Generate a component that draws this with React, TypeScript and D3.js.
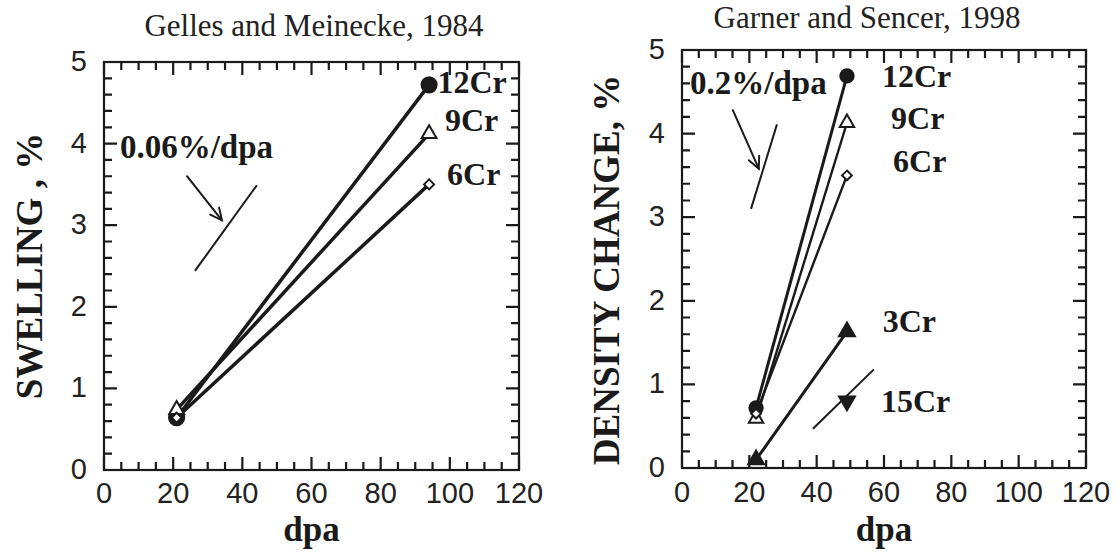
import React from 'react';
import * as d3 from 'd3';

// axis ticks shared by both panels
const xTicks = [0, 20, 40, 60, 80, 100, 120];
const yTicks = [0, 1, 2, 3, 4, 5];

// Gelles and Meinecke, 1984 (swelling, %)
const gellesDpa = [21, 94];
const gelles12Cr = [0.64, 4.72];
const gelles9Cr = [0.74, 4.12];
const gelles6Cr = [0.64, 3.5];

// Garner and Sencer, 1998 (density change, %)
const garnerDpa = [22, 49];
const garner12Cr = [0.72, 4.69];
const garner9Cr = [0.59, 4.13];
const garner6Cr = [0.65, 3.5];
const garner3Cr = [0.1, 1.63];
const garner15CrDpa = [49];
const garner15Cr = [0.8];

const SERIF = '"Liberation Serif", "Times New Roman", serif';
const SANS = '"Liberation Sans", Arial, Helvetica, sans-serif';
const INK = '#1a1a1a';

type Series = {
  name: string;
  dpa: number[];
  values: number[];
  symbol: 'circle' | 'triangle' | 'diamond' | 'triangleDown';
  filled: boolean;
  lineWidth: number;
  size: number;
  label: [number, number];
};

type Seg = [[number, number], [number, number]];

type Slope = {
  text: string;
  textAt: [number, number];
  arrow: Seg;
  line: Seg;
};

const gellesSeries: Series[] = [
  { name: '12Cr', dpa: gellesDpa, values: gelles12Cr, symbol: 'circle', filled: true, lineWidth: 3.5, size: 180, label: [96.4, 4.62] },
  { name: '9Cr', dpa: gellesDpa, values: gelles9Cr, symbol: 'triangle', filled: false, lineWidth: 3.5, size: 95, label: [98.6, 4.15] },
  { name: '6Cr', dpa: gellesDpa, values: gelles6Cr, symbol: 'diamond', filled: false, lineWidth: 3.5, size: 64, label: [99.2, 3.49] },
];

const garnerSeries: Series[] = [
  { name: '12Cr', dpa: garnerDpa, values: garner12Cr, symbol: 'circle', filled: true, lineWidth: 3, size: 140, label: [59.4, 4.56] },
  { name: '9Cr', dpa: garnerDpa, values: garner9Cr, symbol: 'triangle', filled: false, lineWidth: 2.4, size: 90, label: [62.1, 4.05] },
  { name: '6Cr', dpa: garnerDpa, values: garner6Cr, symbol: 'diamond', filled: false, lineWidth: 2.4, size: 60, label: [62.7, 3.54] },
  { name: '3Cr', dpa: garnerDpa, values: garner3Cr, symbol: 'triangle', filled: true, lineWidth: 3, size: 110, label: [59.6, 1.63] },
  { name: '15Cr', dpa: garner15CrDpa, values: garner15Cr, symbol: 'triangleDown', filled: true, lineWidth: 3, size: 110, label: [59.1, 0.67] },
];

const gellesSlope: Slope = {
  text: '0.06%/dpa',
  textAt: [4.6, 3.82],
  arrow: [[24.0, 3.6], [34.1, 3.06]],
  line: [[26.3, 2.44], [44.2, 3.49]],
};

const garnerSlope: Slope = {
  text: '0.2%/dpa',
  textAt: [2.4, 4.47],
  arrow: [[15.1, 4.28], [22.8, 3.58]],
  line: [[20.5, 3.1], [28.2, 4.11]],
};

// the short trend segment through the 15Cr point
const garnerExtraLines: Seg[] = [
  [[38.9, 0.47], [57.0, 1.18]],
];

const symbolPath = (kind: Series['symbol'], size: number) => {
  const type =
    kind === 'circle' ? d3.symbolCircle :
    kind === 'diamond' ? d3.symbolDiamond2 :
    d3.symbolTriangle;
  return d3.symbol().type(type).size(size)() || '';
};

const Arrow = ({ x1, y1, x2, y2 }: { x1: number; y1: number; x2: number; y2: number }) => {
  const ang = Math.atan2(y2 - y1, x2 - x1);
  const len = 13;
  const spread = 0.45;
  const a1 = ang + Math.PI - spread;
  const a2 = ang + Math.PI + spread;
  return (
    <g>
      <line x1={x1} y1={y1} x2={x2} y2={y2} stroke={INK} strokeWidth={2} strokeLinecap="round" />
      <polyline
        points={`${x2 + len * Math.cos(a1)},${y2 + len * Math.sin(a1)} ${x2},${y2} ${x2 + len * Math.cos(a2)},${y2 + len * Math.sin(a2)}`}
        stroke={INK}
        strokeWidth={2}
        fill="none"
        strokeLinecap="round"
      />
    </g>
  );
};

type PanelProps = {
  x0: number;
  x1: number;
  y0: number;
  y1: number;
  title: string;
  titleX: number;
  titleY: number;
  yLabel: string;
  yLabelX: number;
  yLabelY: number;
  xLabelY: number;
  tickLabelY: number;
  series: Series[];
  slope: Slope;
  extraLines?: Seg[];
};

const Panel = (p: PanelProps) => {
  const x = d3.scaleLinear().domain([0, 120]).range([p.x0, p.x1]);
  const y = d3.scaleLinear().domain([0, 5]).range([p.y1, p.y0]);
  const line = d3.line<[number, number]>().x(d => x(d[0])).y(d => y(d[1]));

  const xMinor = x.ticks(24).filter(v => v % 20 !== 0);
  const yMinor = y.ticks(25).filter(v => Math.abs(v - Math.round(v)) > 0.01);
  const major = 13;
  const minor = 8;

  // every tick goes inward on all four sides, collected into one path
  const tp = d3.path();
  const xTick = (v: number, len: number) => {
    const px = x(v);
    tp.moveTo(px, p.y1);
    tp.lineTo(px, p.y1 - len);
    tp.moveTo(px, p.y0);
    tp.lineTo(px, p.y0 + len);
  };
  const yTick = (v: number, len: number) => {
    const py = y(v);
    tp.moveTo(p.x0, py);
    tp.lineTo(p.x0 + len, py);
    tp.moveTo(p.x1, py);
    tp.lineTo(p.x1 - len, py);
  };
  xTicks.forEach(v => xTick(v, major));
  xMinor.forEach(v => xTick(v, minor));
  yTicks.forEach(v => yTick(v, major));
  yMinor.forEach(v => yTick(v, minor));

  return (
    <g>
      <text x={p.titleX} y={p.titleY} textAnchor="middle" fontFamily={SERIF} fontSize={31} fill="#222">
        {p.title}
      </text>

      <rect x={p.x0} y={p.y0} width={p.x1 - p.x0} height={p.y1 - p.y0} fill="none" stroke={INK} strokeWidth={2.2} />
      <path d={tp.toString()} stroke={INK} strokeWidth={2.2} fill="none" />

      {xTicks.map(v => (
        <text key={'xl' + v} x={x(v)} y={p.tickLabelY} textAnchor="middle" fontFamily={SANS} fontSize={29} fill="#222">
          {v}
        </text>
      ))}
      {yTicks.map(v => (
        <text key={'yl' + v} x={p.x0 - 17} y={y(v) + 9} textAnchor="end" fontFamily={SANS} fontSize={29} fill="#222">
          {v}
        </text>
      ))}

      <text x={(p.x0 + p.x1) / 2} y={p.xLabelY} textAnchor="middle" fontFamily={SERIF} fontWeight="bold" fontSize={35} fill={INK}>
        dpa
      </text>
      <text
        transform={`translate(${p.yLabelX},${p.yLabelY}) rotate(-90)`}
        textAnchor="middle"
        fontFamily={SERIF}
        fontWeight="bold"
        fontSize={37}
        fill={INK}
      >
        {p.yLabel}
      </text>

      {/* slope guide */}
      <text x={x(p.slope.textAt[0])} y={y(p.slope.textAt[1])} fontFamily={SERIF} fontWeight="bold" fontSize={33} fill={INK}>
        {p.slope.text}
      </text>
      <Arrow
        x1={x(p.slope.arrow[0][0])}
        y1={y(p.slope.arrow[0][1])}
        x2={x(p.slope.arrow[1][0])}
        y2={y(p.slope.arrow[1][1])}
      />
      <path d={line(p.slope.line) || ''} stroke={INK} strokeWidth={2} fill="none" />
      {(p.extraLines || []).map((l, i) => (
        <path key={'el' + i} d={line(l) || ''} stroke={INK} strokeWidth={2} fill="none" />
      ))}

      {/* series lines */}
      {p.series.map(s => {
        const pts = s.dpa.map((d, i) => [d, s.values[i]] as [number, number]);
        return pts.length > 1 ? (
          <path key={'l' + s.name} d={line(pts) || ''} stroke={INK} strokeWidth={s.lineWidth} fill="none" />
        ) : null;
      })}

      {/* markers */}
      {p.series.map(s =>
        s.dpa.map((d, i) => (
          <path
            key={'m' + s.name + i}
            d={symbolPath(s.symbol, s.size)}
            transform={`translate(${x(d)},${y(s.values[i])})${s.symbol === 'triangleDown' ? ' rotate(180)' : ''}`}
            fill={s.filled ? INK : '#fff'}
            stroke={INK}
            strokeWidth={2}
          />
        ))
      )}

      {p.series.map(s => (
        <text key={'t' + s.name} x={x(s.label[0])} y={y(s.label[1])} fontFamily={SERIF} fontWeight="bold" fontSize={32} fill={INK}>
          {s.name}
        </text>
      ))}
    </g>
  );
};

export default function App() {
  return (
    <svg
      width={1120}
      height={556}
      viewBox="0 0 1120 556"
      style={{ position: 'absolute', left: 0, top: 0, background: '#fff' }}
    >
      <rect width={1120} height={556} fill="#fff" />
      <Panel
        x0={104}
        x1={519}
        y0={62}
        y1={470}
        title="Gelles and Meinecke, 1984"
        titleX={314}
        titleY={36}
        yLabel="SWELLING , %"
        yLabelX={42}
        yLabelY={266}
        xLabelY={541}
        tickLabelY={503}
        series={gellesSeries}
        slope={gellesSlope}
      />
      <Panel
        x0={682}
        x1={1086}
        y0={50}
        y1={468}
        title="Garner and Sencer, 1998"
        titleX={867}
        titleY={28}
        yLabel="DENSITY CHANGE, %"
        yLabelX={619}
        yLabelY={270}
        xLabelY={541}
        tickLabelY={502}
        series={garnerSeries}
        slope={garnerSlope}
        extraLines={garnerExtraLines}
      />
    </svg>
  );
}
